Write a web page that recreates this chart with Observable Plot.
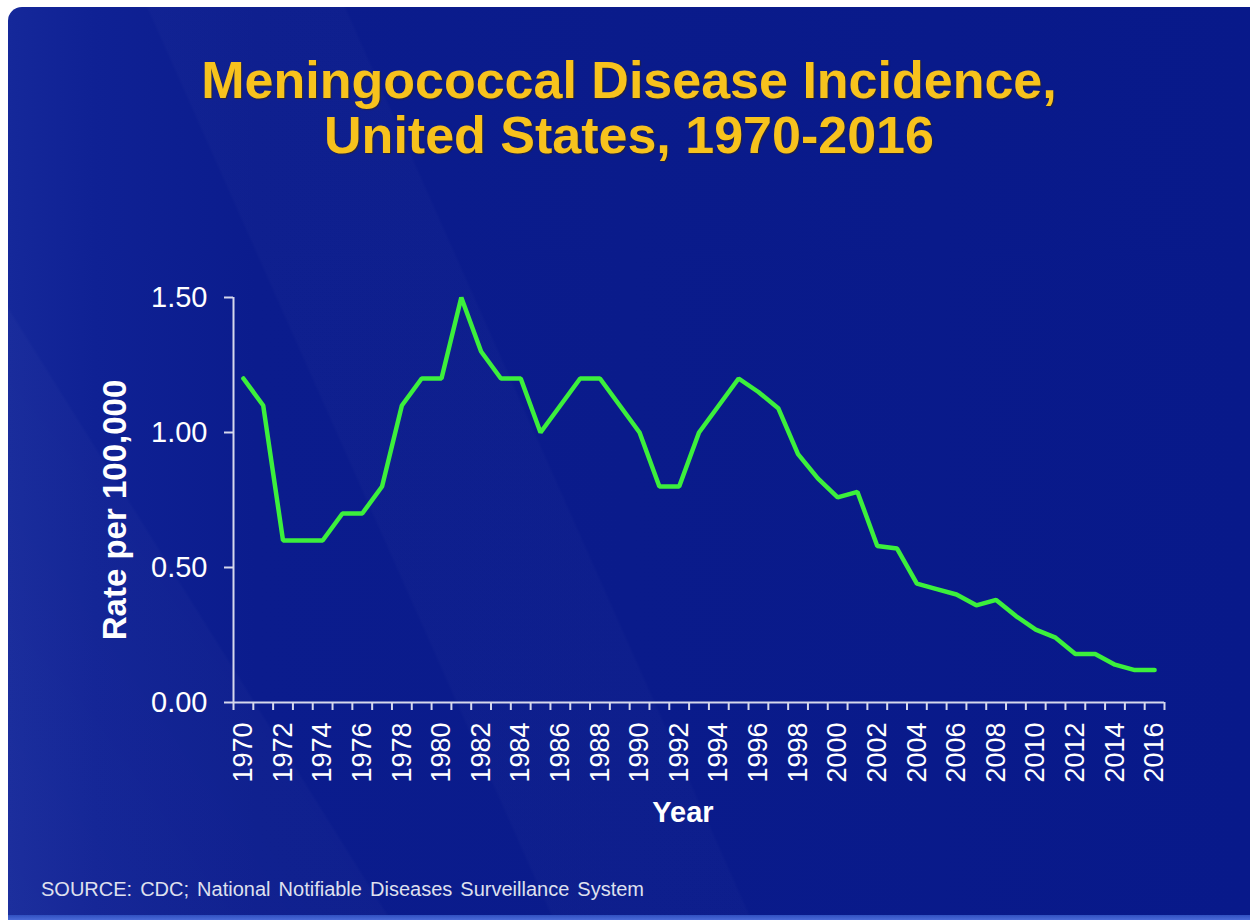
<!DOCTYPE html>
<html>
<head>
<meta charset="utf-8">
<script src="https://cdn.jsdelivr.net/npm/d3@7"></script>
<script src="https://cdn.jsdelivr.net/npm/@observablehq/plot@0.6"></script>
<style>
  html, body { margin: 0; padding: 0; background: #ffffff; }
  body { width: 1250px; height: 920px; position: relative; overflow: hidden; font-family: "Liberation Sans", Arial, sans-serif; }
  #slide {
    position: absolute; left: 8px; top: 7px; width: 1242px; height: 913px;
    border-top-left-radius: 14px;
    background:
      linear-gradient(58deg, rgba(255,255,255,0.03) 0%, rgba(255,255,255,0.02) 21%, rgba(255,255,255,0) 21.2%),
      linear-gradient(66deg, rgba(255,255,255,0) 0%, rgba(255,255,255,0) 33%, rgba(255,255,255,0.015) 33.2%, rgba(255,255,255,0.015) 45%, rgba(255,255,255,0) 45.2%),
      linear-gradient(to right, #15289a 0%, #0f2194 7%, #0b1c8d 20%, #0a1b8b 50%, #08198a 100%);
  }
  #strip { position: absolute; left: 8px; bottom: 0; width: 1242px; height: 5px; background: linear-gradient(to bottom, #3050c0, #4a6ad8); }
  #title {
    position: absolute; left: 8px; width: 1242px; top: 53px; text-align: center;
    color: #f7c21d; font-weight: bold; font-size: 52px; line-height: 55px;
    font-family: "Liberation Sans", Arial, sans-serif;
    text-shadow: 1px 1px 1px rgba(60,40,0,0.6);
  }
  #source {
    position: absolute; left: 41px; top: 878px; color: #dfe0ee; font-size: 20px; word-spacing: 2.5px;
    font-family: "Liberation Sans", Arial, sans-serif;
  }
  #chart { position: absolute; left: 0; top: 0; }
</style>
</head>
<body>
<div id="slide"></div>
<div id="strip"></div>
<div id="title">Meningococcal Disease Incidence,<br>United States, 1970-2016</div>
<div id="chart"></div>
<div id="source">SOURCE: CDC; National Notifiable Diseases Surveillance System</div>
<script>
const years = [1970,1971,1972,1973,1974,1975,1976,1977,1978,1979,
               1980,1981,1982,1983,1984,1985,1986,1987,1988,1989,
               1990,1991,1992,1993,1994,1995,1996,1997,1998,1999,
               2000,2001,2002,2003,2004,2005,2006,2007,2008,2009,
               2010,2011,2012,2013,2014,2015,2016];
const rates = [1.20,1.10,0.60,0.60,0.60,0.70,0.70,0.80,1.10,1.20,
               1.20,1.50,1.30,1.20,1.20,1.00,1.10,1.20,1.20,1.10,
               1.00,0.80,0.80,1.00,1.10,1.20,1.15,1.09,0.92,0.83,
               0.76,0.78,0.58,0.57,0.44,0.42,0.40,0.36,0.38,0.32,
               0.27,0.24,0.18,0.18,0.14,0.12,0.12];
const xLabelYears = [1970,1972,1974,1976,1978,1980,1982,1984,1986,1988,1990,1992,
                     1994,1996,1998,2000,2002,2004,2006,2008,2010,2012,2014,2016];
const yTicks = [0, 0.5, 1.0, 1.5];
const yLabel = "Rate per 100,000";
const xLabel = "Year";

const data = years.map((year, i) => ({year, rate: rates[i]}));
const edges = years.map(y => y - 0.5).concat([years[years.length - 1] + 0.5]);
const axisColor = "#d6d8ec";

const chart = Plot.plot({
  width: 1250,
  height: 920,
  marginLeft: 233,
  marginRight: 86,
  marginTop: 297,
  marginBottom: 218,
  style: {background: "transparent", color: axisColor, fontFamily: "'Liberation Sans', Arial, sans-serif", overflow: "visible"},
  x: {domain: [edges[0], edges[edges.length - 1]]},
  y: {domain: [0, 1.5]},
  marks: [
    Plot.axisX({ticks: edges, tickSize: 8, tickFormat: () => "", label: null, strokeWidth: 2, stroke: axisColor}),
    Plot.axisX({ticks: xLabelYears, tickSize: 0, tickPadding: 20, tickRotate: -90, tickFormat: d => String(d), fontSize: 27, fill: "#ffffff", label: null}),
    Plot.axisY({ticks: yTicks, tickSize: 9, tickPadding: 17, tickFormat: d3.format(".2f"), fontSize: 29, fill: "#ffffff", label: null, strokeWidth: 2, stroke: axisColor}),
    Plot.ruleY([0], {stroke: axisColor, strokeWidth: 2}),
    Plot.ruleX([edges[0]], {stroke: axisColor, strokeWidth: 2}),
    Plot.line(data, {x: "year", y: "rate", stroke: "#3cf03c", strokeWidth: 4.5, strokeLinejoin: "miter"}),
    Plot.text([yLabel], {frameAnchor: "left", textAnchor: "middle", lineAnchor: "middle", dx: -118, dy: 10, rotate: -90, fontSize: 33, fontWeight: "bold", fill: "#ffffff"}),
    Plot.text([xLabel], {frameAnchor: "bottom", textAnchor: "middle", lineAnchor: "middle", dx: -16, dy: 110, fontSize: 29, fontWeight: "bold", fill: "#ffffff"})
  ]
});
document.getElementById("chart").appendChild(chart);
</script>
</body>
</html>
